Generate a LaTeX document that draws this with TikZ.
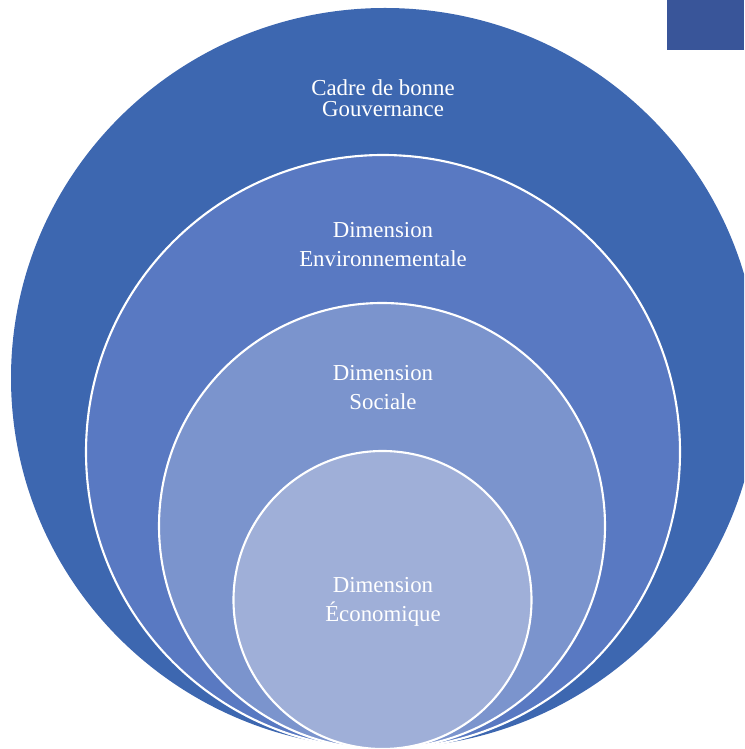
\documentclass[tikz,border=0pt]{standalone}
\usepackage{fontspec}
\setmainfont{Liberation Serif}
\usetikzlibrary{positioning}
\definecolor{gouvblue}{RGB}{61,103,176}
\definecolor{envblue}{RGB}{89,121,194}
\definecolor{socblue}{RGB}{123,148,205}
\definecolor{ecoblue}{RGB}{159,175,216}
\definecolor{boxblue}{RGB}{57,85,153}

\begin{document}
\begin{tikzpicture}
            \tikzstyle{ring}=[draw=white,line width=1.2pt]
            \tikzstyle{label}=[text=white,align=center,font=\fontsize{13}{16.5}\selectfont]

            \useasboundingbox (0,0) rectangle (14.88,14.98);
            \clip (0,0) rectangle (14.88,14.98);

            % circles
            \fill[gouvblue] (7.70,7.42) ellipse [x radius=7.48,y radius=7.40];
            \filldraw[ring,fill=envblue] (7.66,5.94) circle (5.94);
            \filldraw[ring,fill=socblue] (7.64,4.46) circle (4.46);
            \filldraw[ring,fill=ecoblue] (7.65,2.98) circle (2.98);

            % corner box
            \fill[boxblue] (13.34,13.98) rectangle (14.88,14.98);

            % labels
            \node[label,font=\fontsize{13}{12}\selectfont] (gouv) at (7.66,13.01) {Cadre de bonne\\Gouvernance};
            \node[label] (env) at (7.66,10.09) {Dimension\\Environnementale};
            \node[label] (soc) at (7.66,7.22) {Dimension\\Sociale};
            \node[label] (eco) at (7.66,2.95) {Dimension\\Économique};
        \end{tikzpicture}
\end{document}
